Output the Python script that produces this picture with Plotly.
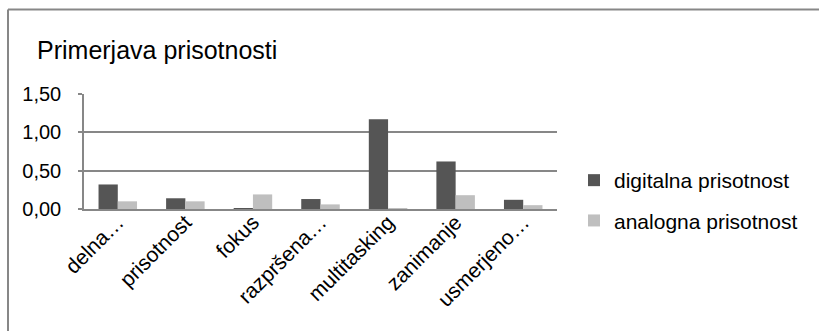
import plotly.graph_objects as go

# Categories and the two series (mean presence scores)
categories = ["delna…", "prisotnost", "fokus", "razpršena…",
              "multitasking", "zanimanje", "usmerjeno…"]
digitalna = [0.32, 0.14, 0.01, 0.13, 1.17, 0.62, 0.12]
analogna = [0.10, 0.10, 0.19, 0.06, 0.01, 0.18, 0.05]
y_ticks = [0.0, 0.5, 1.0, 1.5]

W, H = 819, 331
L, R, T, B = 84, 557, 94, 209  # plot area in pixels

def px_x(x):
    return (x - L) / (R - L)

def px_y(y):
    return (B - y) / (B - T)

FONT = "Liberation Sans, Arial, sans-serif"
GRID = "#878787"

fig = go.Figure()
fig.add_trace(go.Bar(name="digitalna prisotnost", x=categories, y=digitalna,
                     marker=dict(color="#555555", line=dict(width=0)),
                     legendgroup="d"))
fig.add_trace(go.Bar(name="analogna prisotnost", x=categories, y=analogna,
                     marker=dict(color="#bfbfbf", line=dict(width=0)),
                     legendgroup="a"))

fig.update_layout(
    width=W, height=H,
    margin=dict(l=L, r=W - R, t=T, b=H - B, pad=0, autoexpand=False),
    paper_bgcolor="white", plot_bgcolor="white",
    separators=",.",
    barmode="group", bargap=0.43, bargroupgap=0,
    font=dict(family=FONT, size=20, color="#000000"),
    showlegend=True,
    legend=dict(
        x=px_x(574), y=px_y(160), xanchor="left", yanchor="top",
        font=dict(family=FONT, size=21, color="#000000"),
        bgcolor="rgba(0,0,0,0)", traceorder="grouped", tracegroupgap=10,
        itemsizing="constant", itemwidth=30,
    ),
    xaxis=dict(
        showgrid=False, showline=True, linecolor=GRID, linewidth=1.5,
        ticks="", tickangle=-45, tickfont=dict(size=21),
        ticklabelstandoff=-9, automargin=False,
        fixedrange=True,
    ),
    yaxis=dict(
        range=[0, 1.5], tickvals=y_ticks, tickformat=".2f",
        showgrid=True, gridcolor=GRID, gridwidth=1.5,
        showline=True, linecolor=GRID, linewidth=1.5,
        ticks="outside", ticklen=4, tickcolor=GRID, tickwidth=1.5,
        ticklabelstandoff=13, zeroline=False, automargin=False,
        tickfont=dict(size=20),
    ),
    annotations=[dict(
        text="Primerjava prisotnosti", xref="paper", yref="paper",
        x=px_x(35), y=px_y(50), xanchor="left", yanchor="middle",
        showarrow=False, font=dict(family=FONT, size=25, color="#000000"),
    )],
    shapes=[
        # chart frame (top and left edges)
        dict(type="line", xref="paper", yref="paper",
             x0=px_x(8), y0=px_y(9.5), x1=px_x(W + 5), y1=px_y(9.5),
             line=dict(color=GRID, width=2)),
        dict(type="line", xref="paper", yref="paper",
             x0=px_x(8), y0=px_y(9.5), x1=px_x(8), y1=px_y(H + 5),
             line=dict(color=GRID, width=2)),
    ],
)

fig.write_html("out.html")
